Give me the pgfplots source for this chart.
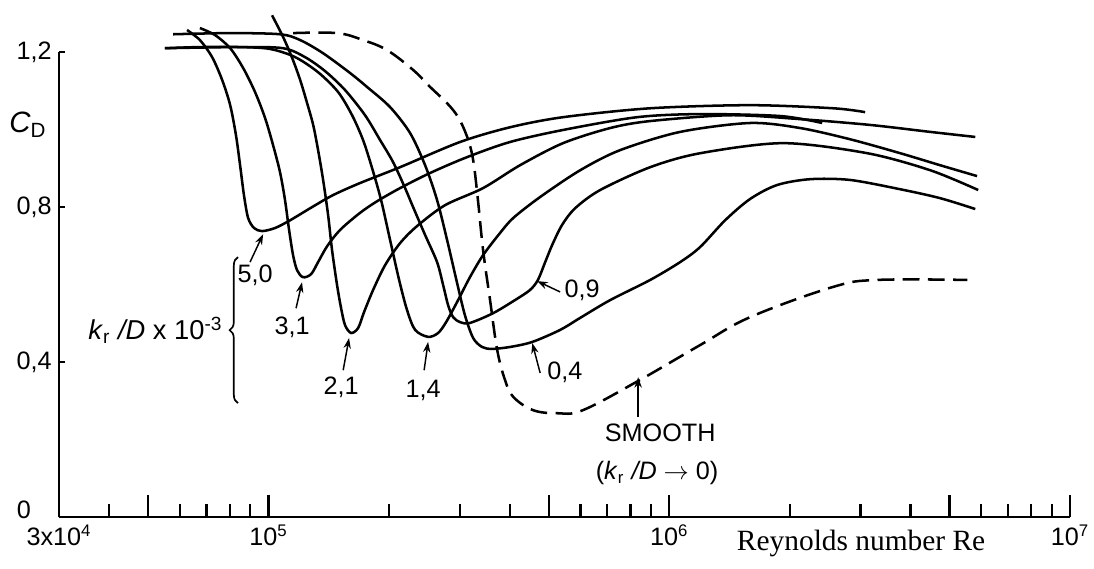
\documentclass[border=0pt]{standalone}
\usepackage{pgfplots}
\pgfplotsset{compat=1.18}
\usepackage{fontspec}
\setmainfont{Liberation Sans}
\newfontfamily\timesfont{Liberation Serif}
\usetikzlibrary{arrows.meta,decorations.pathreplacing}
\pgfplotsset{
  curve/.style={black,line width=1.2pt,smooth,tension=0.5},
}
\tikzset{
  note/.style={black,line width=0.7pt,-{Stealth[length=5pt,width=3.5pt]}},
  lab/.style={font=\fontsize{12}{14}\selectfont,inner sep=0pt},
}
\begin{document}
\begin{tikzpicture}
\begin{axis}[
  scale only axis, width=481.4pt, height=221.4pt,
  xmode=log, xmin=3e4, xmax=1e7, ymin=0, ymax=1.2,
  axis lines=left, axis line style={line width=1.1pt,-},
  clip=false,
  xtick={3e4,5e4,1e5,5e5,1e6,5e6,1e7},
  xticklabels={3x10\textsuperscript{4},,10\textsuperscript{5},,10\textsuperscript{6},,10\textsuperscript{7}},
  minor xtick={4e4,6e4,7e4,8e4,9e4,2e5,3e5,4e5,6e5,7e5,8e5,9e5,2e6,3e6,4e6,6e6,7e6,8e6,9e6},
  tick align=inside,
  major tick length=10.5pt, minor tick length=6.2pt,
  every tick/.style={black,line width=1.1pt},
  ytick={0,0.4,0.8,1.2}, yticklabels={,{0,4},{0,8},{1,2}},
  ytick style={draw=none},
  tick label style={font=\fontsize{12}{14}\selectfont},
]
\coordinate (sw) at (rel axis cs:0,0);
% ks/D = 5.0e-3
\addplot[curve] coordinates {(6.26e4,1.257)(6.74e4,1.231)(7.23e4,1.187)(7.66e4,1.128)(8.02e4,1.063)(8.29e4,0.986)(8.49e4,0.908)(8.68e4,0.831)(8.89e4,0.772)(9.20e4,0.746)(9.63e4,0.738)(1.038e5,0.746)(1.132e5,0.766)(1.284e5,0.800)(1.449e5,0.831)(1.691e5,0.862)(2.129e5,0.903)(3.005e5,0.968)(4.005e5,1.006)(5.43e5,1.032)(8.96e5,1.055)(1.591e6,1.063)(2.563e6,1.055)(3.08e6,1.045)};
% 3.1
\addplot[curve] coordinates {(6.74e4,1.262)(7.35e4,1.244)(8.02e4,1.210)(8.64e4,1.159)(9.25e4,1.097)(9.80e4,1.030)(1.026e5,0.960)(1.068e5,0.890)(1.099e5,0.818)(1.125e5,0.741)(1.151e5,0.676)(1.178e5,0.637)(1.219e5,0.619)(1.277e5,0.627)(1.329e5,0.658)(1.400e5,0.699)(1.508e5,0.741)(1.691e5,0.785)(1.865e5,0.815)(2.129e5,0.849)(2.530e5,0.888)(3.13e5,0.929)(4.005e5,0.968)(5.43e5,0.999)(8.31e5,1.032)(1.194e6,1.040)(1.890e6,1.035)(2.406e6,1.017)};
% 2.1
\addplot[curve] coordinates {(1.020e5,1.295)(1.087e5,1.239)(1.145e5,1.185)(1.199e5,1.128)(1.248e5,1.068)(1.292e5,1.012)(1.329e5,0.947)(1.368e5,0.870)(1.408e5,0.779)(1.440e5,0.689)(1.482e5,0.599)(1.517e5,0.539)(1.552e5,0.495)(1.607e5,0.475)(1.673e5,0.488)(1.731e5,0.529)(1.823e5,0.586)(1.953e5,0.650)(2.129e5,0.707)(2.347e5,0.751)(2.757e5,0.805)(3.43e5,0.849)(4.24e5,0.908)(5.43e5,0.965)(7.12e5,1.004)(8.96e5,1.022)(1.418e6,1.037)(2.120e6,1.027)(3.17e6,1.012)(4.48e6,0.994)(5.80e6,0.981)};
% 1.4
\addplot[curve] coordinates {(5.51e4,1.210)(6.74e4,1.213)(8.49e4,1.213)(1.009e5,1.208)(1.165e5,1.187)(1.329e5,1.148)(1.491e5,1.097)(1.616e5,1.037)(1.721e5,0.973)(1.812e5,0.901)(1.909e5,0.818)(2.010e5,0.715)(2.117e5,0.612)(2.216e5,0.534)(2.321e5,0.483)(2.501e5,0.465)(2.648e5,0.475)(2.773e5,0.503)(2.954e5,0.555)(3.18e5,0.619)(3.43e5,0.676)(3.78e5,0.733)(4.08e5,0.772)(4.76e5,0.826)(5.99e5,0.895)(7.54e5,0.947)(1.064e6,0.994)(1.591e6,1.017)(2.120e6,1.004)(2.826e6,0.975)(3.77e6,0.939)(4.74e6,0.908)(5.86e6,0.880)};
% 0.9
\addplot[curve] coordinates {(5.51e4,1.210)(8.49e4,1.213)(1.087e5,1.210)(1.233e5,1.187)(1.383e5,1.151)(1.552e5,1.102)(1.741e5,1.037)(1.898e5,0.973)(2.045e5,0.916)(2.191e5,0.849)(2.294e5,0.800)(2.458e5,0.728)(2.633e5,0.658)(2.726e5,0.599)(2.805e5,0.547)(2.887e5,0.516)(3.005e5,0.503)(3.18e5,0.501)(3.63e5,0.526)(4.12e5,0.560)(4.49e5,0.586)(4.70e5,0.612)(4.90e5,0.658)(5.10e5,0.702)(5.40e5,0.754)(5.82e5,0.797)(6.72e5,0.844)(8.96e5,0.903)(1.194e6,0.939)(1.923e6,0.965)(3.12e6,0.939)(4.48e6,0.895)(5.90e6,0.844)};
% 0.4
\addplot[curve] coordinates {(5.78e4,1.246)(8.02e4,1.249)(1.068e5,1.246)(1.199e5,1.231)(1.368e5,1.197)(1.597e5,1.146)(1.761e5,1.110)(2.010e5,1.058)(2.255e5,0.991)(2.458e5,0.908)(2.633e5,0.818)(2.789e5,0.715)(2.954e5,0.604)(3.09e5,0.521)(3.24e5,0.462)(3.41e5,0.439)(3.61e5,0.434)(4.005e5,0.439)(4.55e5,0.452)(5.34e5,0.483)(5.99e5,0.514)(7.12e5,0.560)(8.96e5,0.612)(1.064e6,0.658)(1.194e6,0.697)(1.378e6,0.766)(1.591e6,0.821)(1.858e6,0.857)(2.246e6,0.872)(2.826e6,0.870)(3.77e6,0.846)(4.74e6,0.823)(5.80e6,0.795)};
% smooth
\addplot[curve,tension=0.6,dash pattern=on 8pt off 4pt] coordinates {(1.151e5,1.249)(1.482e5,1.249)(1.721e5,1.231)(1.976e5,1.205)(2.294e5,1.154)(2.530e5,1.110)(2.789e5,1.068)(2.971e5,1.032)(3.13e5,0.981)(3.24e5,0.921)(3.33e5,0.818)(3.43e5,0.689)(3.57e5,0.560)(3.72e5,0.431)(3.89e5,0.354)(4.08e5,0.310)(4.57e5,0.276)(5.25e5,0.268)(6.09e5,0.276)(8.45e5,0.354)(1.194e6,0.444)(1.591e6,0.516)(2.563e6,0.594)(3.30e6,0.612)(5.54e6,0.612)};

% y ticks (short, inside)
\draw[line width=1.1pt] (axis cs:3e4,0.4) -- (axis cs:3.1e4,0.4);
\draw[line width=1.1pt] (axis cs:3e4,0.8) -- (axis cs:3.1e4,0.8);
\draw[line width=1.1pt] (axis cs:3e4,1.2) -- (axis cs:3.1e4,1.2);
\node[lab] at (axis cs:2.45e4,0.018) {0};
\node[font=\fontsize{14}{16}\selectfont] at (axis cs:2.51e4,1.012) {\textit{C}\textsubscript{D}};
\node[font=\fontsize{14}{16}\selectfont\timesfont] at (axis cs:3.01e6,-0.067) {Reynolds number Re};

% annotations
\draw[note] (axis cs:8.99e4,0.658) -- (axis cs:9.69e4,0.730);
\node[lab] at (axis cs:9.25e4,0.625) {5,0};
\draw[note] (axis cs:1.171e5,0.539) -- (axis cs:1.212e5,0.606);
\node[lab] at (axis cs:1.145e5,0.490) {3,1};
\draw[note] (axis cs:1.535e5,0.379) -- (axis cs:1.588e5,0.462);
\node[lab] at (axis cs:1.517e5,0.335) {2,1};
\draw[note] (axis cs:2.444e5,0.379) -- (axis cs:2.501e5,0.452);
\node[lab] at (axis cs:2.429e5,0.328) {1,4};
\draw[note] (axis cs:4.76e5,0.372) -- (axis cs:4.55e5,0.449);
\node[lab] at (axis cs:5.49e5,0.374) {0,4};
\draw[note] (axis cs:5.34e5,0.581) -- (axis cs:4.68e5,0.609);
\node[lab] at (axis cs:6.06e5,0.586) {0,9};
\draw[note] (axis cs:8.36e5,0.258) -- (axis cs:8.36e5,0.361);
\node[lab] at (axis cs:9.49e5,0.217) {SMOOTH};
\node[lab] at (axis cs:9.32e5,0.114) {(\textit{k}\textsubscript{r} \textit{/D} $\rightarrow$ 0)};
\draw[line width=0.8pt,decorate,decoration={brace,amplitude=4pt}] (axis cs:8.39e4,0.294) -- (axis cs:8.39e4,0.671);
\node[font=\fontsize{13}{15}\selectfont,inner sep=0pt,anchor=east] at (axis cs:7.7e4,0.483) {\textit{k}\textsubscript{r} \textit{/D} x 10\textsuperscript{-3}};
\end{axis}
\pgfresetboundingbox
\path (sw) ++(-28.1pt,-24.3pt) rectangle ++(520.9pt,270.5pt);
\end{tikzpicture}
\end{document}
